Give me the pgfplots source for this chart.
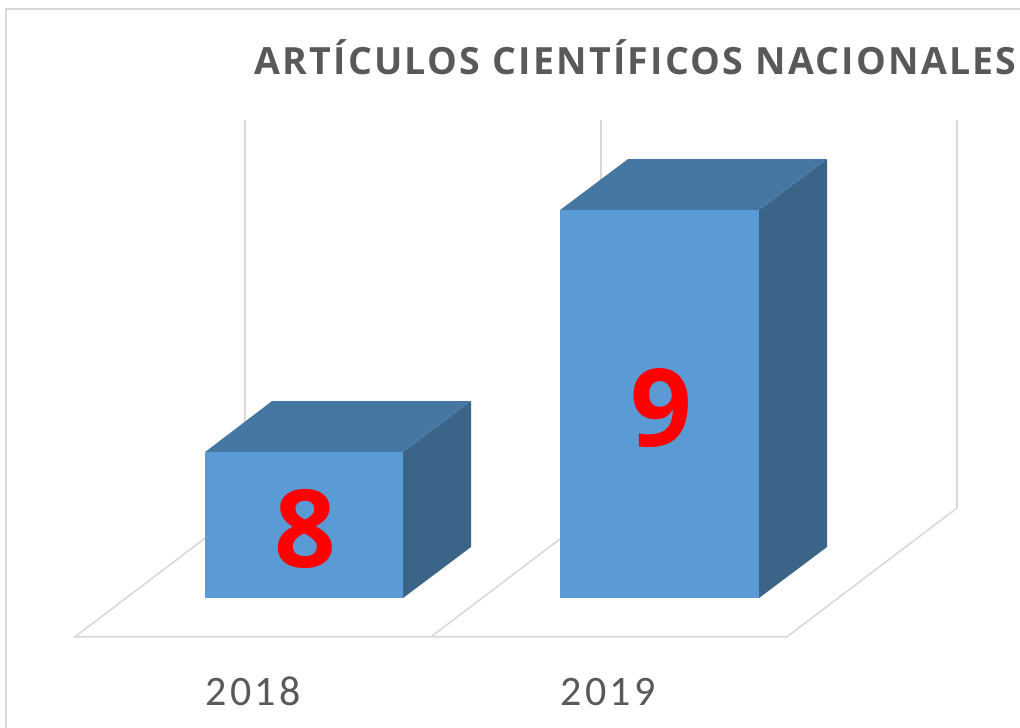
\documentclass[border=0pt]{standalone}
\usepackage{pgfplots}
\pgfplotsset{compat=1.18}
\usepackage{fontspec}
\setmainfont{Carlito}
\newfontfamily\titlefont[LetterSpace=6,Ligatures=NoCommon]{Open Sans}
\newfontfamily\valuefont{Open Sans}
\newfontfamily\ticksfont[LetterSpace=8]{Carlito}
\definecolor{front}{HTML}{5B9BD5}
\definecolor{topf}{HTML}{4676A2}
\definecolor{sidef}{HTML}{3A6488}
\definecolor{gridc}{HTML}{D9D9D9}
\definecolor{txt}{HTML}{595959}
\begin{document}
\begin{tikzpicture}[x=1pt,y=1pt]
\begin{axis}[
  scale only axis, width=1020pt, height=728pt,
  xmin=0, xmax=1020, ymin=6.860, ymax=9.868,
  axis line style={draw=none},
  ytick=\empty, xtick={253,608}, xticklabels={2018,2019},
  major tick length=0pt,
  xticklabel style={font=\ticksfont\fontsize{42}{42}\selectfont, text=txt, anchor=base, yshift=22pt},
  title={\titlefont\bfseries ARTÍCULOS CIENTÍFICOS NACIONALES},
  title style={font=\fontsize{37.5}{37.5}\selectfont, text=txt, at={(0.623,0.890)}, anchor=base, inner sep=0pt},
  clip=false,
]
% outer frame
\addplot[gridc, line width=2pt] coordinates {(6,6.860) (6,9.831) (1020,9.831)};
% back walls and floor
\addplot[gridc, line width=1.6pt] coordinates {(245,9.372) (245,7.769) (75,7.237) (787,7.237) (957,7.769) (957,9.372)};
\addplot[gridc, line width=1.6pt] coordinates {(601,9.372) (601,7.769) (431,7.237)};
% 2018, value 8
\addplot[fill=sidef, draw=none] coordinates {(403,7.397) (471,7.6077) (471,8.2107) (403,8)} -- cycle;
\addplot[fill=topf, draw=none] coordinates {(205,8) (272,8.2107) (471,8.2107) (403,8)} -- cycle;
\addplot[fill=front, draw=none] coordinates {(205,7.397) (205,8) (403,8) (403,7.397)} -- cycle;
% 2019, value 9
\addplot[fill=sidef, draw=none] coordinates {(759,7.397) (827,7.6077) (827,9.2107) (759,9)} -- cycle;
\addplot[fill=topf, draw=none] coordinates {(560,9) (628,9.2107) (827,9.2107) (759,9)} -- cycle;
\addplot[fill=front, draw=none] coordinates {(560,7.397) (560,9) (759,9) (759,7.397)} -- cycle;
% value labels
\node[text=red, anchor=base, inner sep=0pt, font=\valuefont\fontsize{108}{108}\selectfont\bfseries] at (axis cs:305,7.522) {8};
\node[text=red, anchor=base, inner sep=0pt, font=\valuefont\fontsize{108}{108}\selectfont\bfseries] at (axis cs:661,8.024) {9};
\end{axis}
\pgfresetboundingbox
\path[use as bounding box] (0,0) rectangle (1020pt,728pt);
\end{tikzpicture}
\end{document}
